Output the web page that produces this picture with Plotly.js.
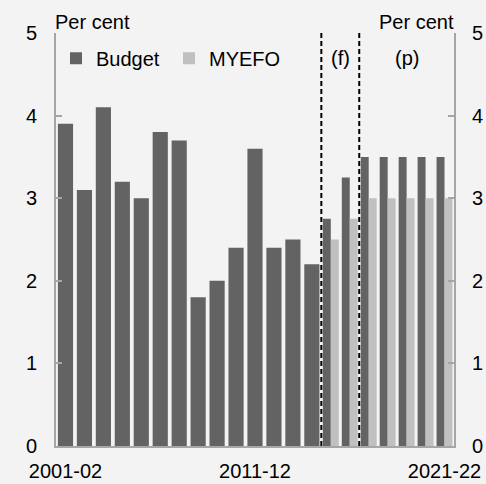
<!DOCTYPE html>
<html>
<head>
<meta charset="utf-8">
<script src="https://cdn.plot.ly/plotly-3.0.1.min.js"></script>
<style>html,body{margin:0;padding:0;background:#f3f3f3;}#chart{width:486px;height:484px;}</style>
</head>
<body>
<div id="chart"></div>
<script>
const years = ["2001-02","2002-03","2003-04","2004-05","2005-06","2006-07","2007-08","2008-09","2009-10","2010-11","2011-12","2012-13","2013-14","2014-15","2015-16","2016-17","2017-18","2018-19","2019-20","2020-21","2021-22"];
const histYears = years.slice(0, 14);
const histBudget = [3.9, 3.1, 4.1, 3.2, 3.0, 3.8, 3.7, 1.8, 2.0, 2.4, 3.6, 2.4, 2.5, 2.2];
const fcYears = years.slice(14);
const fcBudget = [2.75, 3.25, 3.5, 3.5, 3.5, 3.5, 3.5];
const fcMyefo = [2.5, 2.75, 3.0, 3.0, 3.0, 3.0, 3.0];
const tickLabels = ["2001-02", "2011-12", "2021-22"];
const dividers = [13.5, 15.5];

const dark = "#636363", light = "#c0c0c0", axisCol = "#a6a6a6";
const font = {family: "Liberation Sans, Arial, sans-serif", size: 20, color: "#000"};

const traces = [
  {type: "bar", x: histYears, y: histBudget, name: "Budget", legendgroup: "b", showlegend: false,
   marker: {color: dark}, width: 0.8, offset: -0.4},
  {type: "bar", x: fcYears, y: fcBudget, name: "Budget", legendgroup: "b",
   marker: {color: dark}, width: 0.42, offset: -0.42},
  {type: "bar", x: fcYears, y: fcMyefo, name: "MYEFO", yaxis: "y2",
   marker: {color: light}, width: 0.42, offset: 0}
];

const shapes = dividers.map(v => ({type: "line", xref: "x", yref: "y", x0: v, x1: v, y0: 0, y1: 5.03,
  line: {color: "#000", width: 2, dash: "5px,3px"}}));

const layout = {
  width: 486, height: 484,
  paper_bgcolor: "#f3f3f3", plot_bgcolor: "#f3f3f3",
  margin: {l: 56, r: 32, t: 33, b: 38},
  barmode: "overlay",
  font: font,
  showlegend: true,
  legend: {orientation: "h", x: 0.0, y: 0.939, xanchor: "left", yanchor: "middle",
    bgcolor: "rgba(0,0,0,0)", font: font, itemwidth: 30, traceorder: "normal",
    entrywidth: 68, entrywidthmode: "pixels"},
  xaxis: {type: "category", categoryorder: "array", categoryarray: years,
    range: [-0.5, 20.5], tickmode: "array", tickvals: tickLabels, ticktext: tickLabels,
    showline: true, linecolor: axisCol, linewidth: 2, ticks: "", showgrid: false, zeroline: false,
    tickangle: 0, ticklabelstandoff: 6, tickfont: font},
  yaxis: {range: [0, 5], dtick: 1, showline: true, linecolor: axisCol, linewidth: 2,
    ticks: "inside", ticklen: 6, tickcolor: axisCol, tickwidth: 2, showgrid: false, zeroline: false,
    ticklabelstandoff: 13, tickfont: font},
  yaxis2: {range: [0, 5], dtick: 1, overlaying: "y", side: "right", anchor: "x",
    showline: true, linecolor: axisCol, linewidth: 2,
    ticks: "inside", ticklen: 6, tickcolor: axisCol, tickwidth: 2, showgrid: false, zeroline: false,
    ticklabelstandoff: 12, tickfont: font},
  shapes: shapes,
  annotations: [
    {text: "Per cent", xref: "paper", yref: "paper", x: 0, y: 1, xanchor: "left", yanchor: "bottom", showarrow: false, font: font, xshift: -3, yshift: -2},
    {text: "Per cent", xref: "paper", yref: "paper", x: 1, y: 1, xanchor: "right", yanchor: "bottom", showarrow: false, font: font, xshift: 2, yshift: -2},
    {text: "(f)", xref: "x", yref: "paper", x: 14.5, y: 0.94, xanchor: "center", yanchor: "middle", showarrow: false, font: font},
    {text: "(p)", xref: "x", yref: "paper", x: 18, y: 0.94, xanchor: "center", yanchor: "middle", showarrow: false, font: font}
  ]
};

Plotly.newPlot("chart", traces, layout, {displayModeBar: false, staticPlot: true});
</script>
</body>
</html>
